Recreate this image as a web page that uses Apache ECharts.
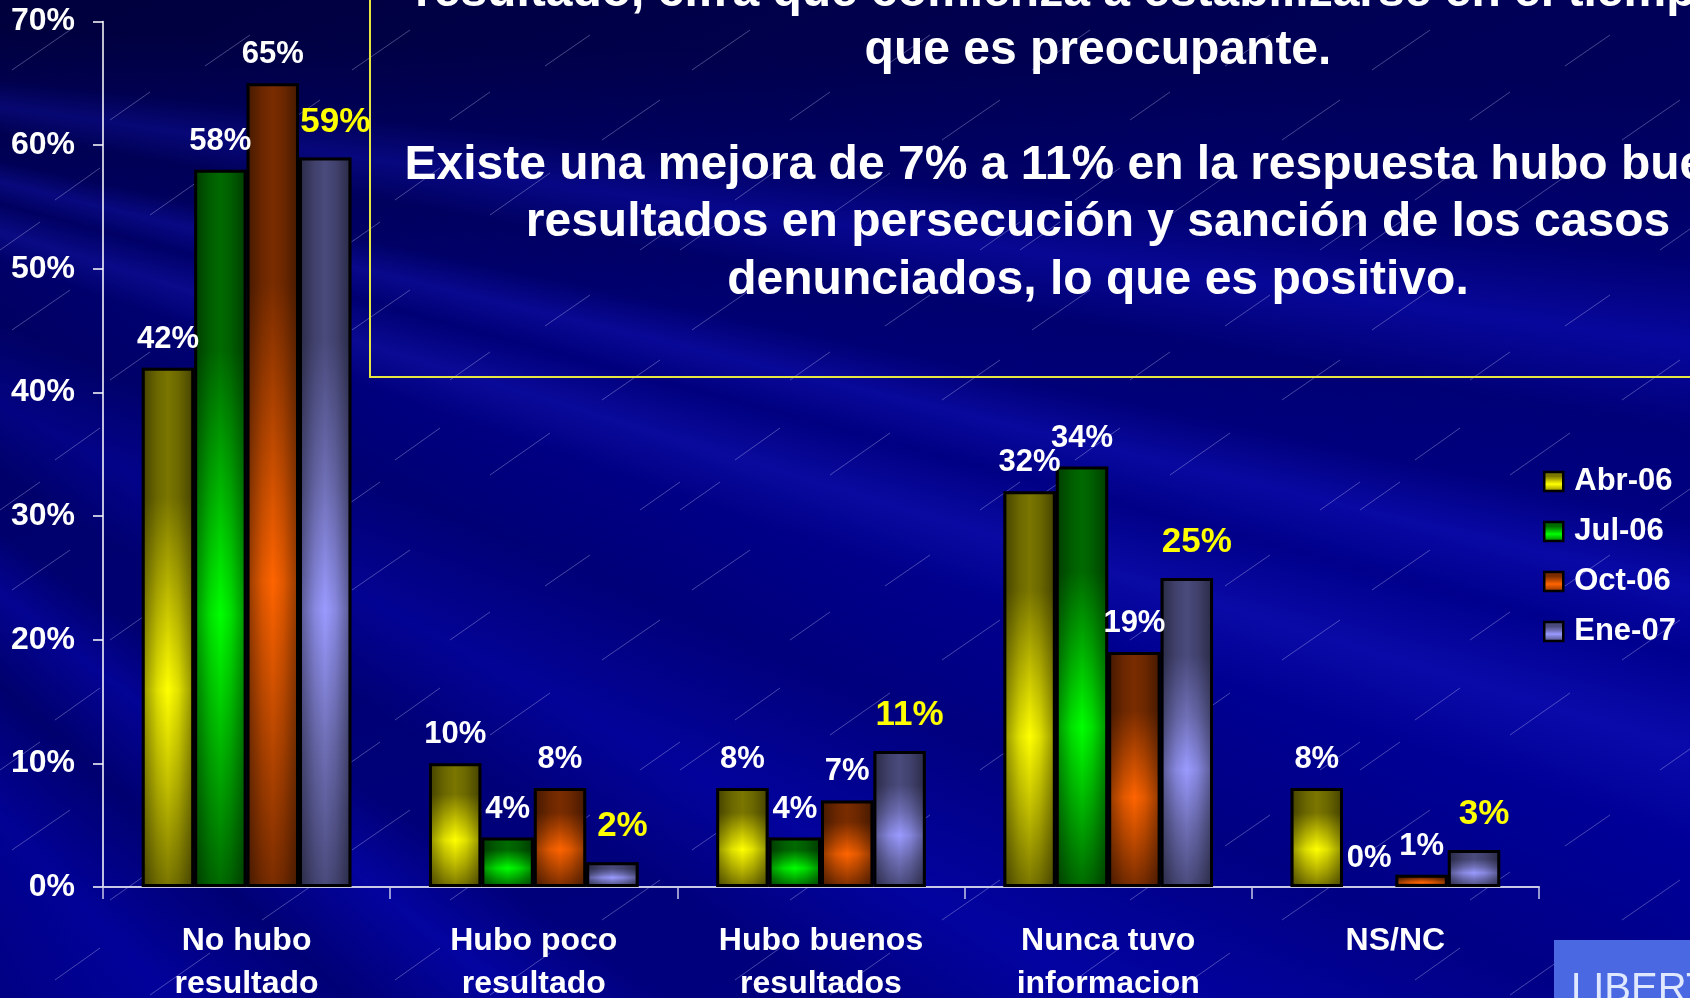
<!DOCTYPE html>
<html>
<head>
<meta charset="utf-8">
<script src="https://cdn.jsdelivr.net/npm/echarts@6/dist/echarts.min.js"></script>
<style>
  html, body { margin: 0; padding: 0; background: #00008a; }
  #bg {
    position: absolute; left: 0; top: 0; width: 1690px; height: 998px; overflow: hidden;
    background-color: #00008c;
  }
  #chart { position: absolute; left: 0; top: 0; width: 1690px; height: 998px; }
</style>
</head>
<body>
<div id="bg"></div>
<div id="chart"></div>
<script>
// data
var categories = ['No hubo\nresultado', 'Hubo poco\nresultado', 'Hubo buenos\nresultados', 'Nunca tuvo\ninformacion', 'NS/NC'];
var seriesNames = ['Abr-06', 'Jul-06', 'Oct-06', 'Ene-07'];
var abr06 = [42, 10, 8, 32, 8];
var jul06 = [58, 4, 4, 34, 0];
var oct06 = [65, 8, 7, 19, 1];
var ene07 = [59, 2, 11, 25, 3];
var yMin = 0, yMax = 70, yStep = 10;

var noteFirstLine = 'resultado, cifra que comienza a estabilizarse en el tiempo, lo';
var noteLines = [
  'que es preocupante.',
  '',
  'Existe una mejora de 7% a 11% en la respuesta hubo buenos',
  'resultados en persecución y sanción de los casos',
  'denunciados, lo que es positivo.'
];

var FONT = '"Liberation Sans", Arial, sans-serif';

// background: base gradient, soft rays from upper left, faint diagonal streaks
function rainTile() {
  var segs = [
    [12, 70, 70, 30], [150, 215, 210, 173], [205, 66, 250, 35], [55, 200, 100, 168],
    [262, 140, 320, 100], [110, 120, 150, 92], [300, 250, 340, 222], [0, 250, 40, 222]
  ];
  var s = "<svg xmlns='http://www.w3.org/2000/svg' width='340' height='260'><g stroke='rgba(210,210,255,0.33)' stroke-width='1'>";
  segs.forEach(function (l) {
    s += "<line x1='" + l[0] + "' y1='" + l[1] + "' x2='" + l[2] + "' y2='" + l[3] + "'/>";
  });
  s += '</g></svg>';
  return 'url("data:image/svg+xml,' + encodeURIComponent(s) + '")';
}
var rays = 'conic-gradient(at -760px 0px, ' +
  'rgba(0,0,30,0.45) 0deg, rgba(0,0,30,0.45) 92deg, rgba(0,0,40,0.30) 96deg, ' +
  'rgba(40,40,200,0.18) 98deg, rgba(0,0,40,0.28) 100deg, rgba(0,0,40,0.22) 102deg, ' +
  'rgba(40,40,210,0.22) 103.5deg, rgba(0,0,50,0.12) 105deg, rgba(40,40,210,0.25) 107deg, ' +
  'rgba(0,0,50,0.08) 109deg, rgba(0,0,60,0.28) 113deg, rgba(20,20,180,0.15) 118deg, ' +
  'rgba(0,0,60,0.32) 122deg, rgba(0,0,60,0.32) 125deg, rgba(20,20,190,0.18) 128deg, ' +
  'rgba(0,0,60,0.38) 132deg, rgba(10,10,170,0.15) 137deg, rgba(0,0,60,0.30) 145deg, rgba(0,0,60,0.3) 360deg)';
var base = 'linear-gradient(160deg, #000055 0%, #000086 35%, #000098 65%, #0000a4 100%)';
document.getElementById('bg').style.backgroundImage = rainTile() + ', ' + rays + ', ' + base;

function vGrad(dark, mid, bright) {
  return new echarts.graphic.LinearGradient(0, 0, 0, 1, [
    { offset: 0, color: dark },
    { offset: 0.25, color: dark },
    { offset: 0.45, color: mid },
    { offset: 0.62, color: bright },
    { offset: 0.8, color: mid },
    { offset: 1, color: dark }
  ]);
}
var fills = [
  vGrad('#7a7600', '#c4c000', '#ffff00'),
  vGrad('#006a00', '#00b800', '#00ff00'),
  vGrad('#7a2c00', '#c04a00', '#ff6400'),
  vGrad('#4a4a7c', '#7070b8', '#9a9aff')
];
var edgeShade = new echarts.graphic.LinearGradient(0, 0, 1, 0, [
  { offset: 0, color: 'rgba(0,0,0,0.45)' },
  { offset: 0.3, color: 'rgba(0,0,0,0.12)' },
  { offset: 0.5, color: 'rgba(0,0,0,0)' },
  { offset: 0.7, color: 'rgba(0,0,0,0.12)' },
  { offset: 1, color: 'rgba(0,0,0,0.45)' }
]);

// a zero bar shows no outline on the slide
function toItems(vals) {
  return vals.map(function (v) {
    return v === 0 ? { value: v, itemStyle: { borderWidth: 0 } } : v;
  });
}

var values = [abr06, jul06, oct06, ene07];
var series = [];
values.forEach(function (vals, i) {
  series.push({
    name: seriesNames[i],
    type: 'bar',
    xAxisIndex: 0,
    data: toItems(vals),
    barGap: '0%',
    barCategoryGap: '27%',
    z: 2,
    itemStyle: { color: fills[i], borderColor: '#000', borderWidth: 3 }
  });
});
values.forEach(function (vals, i) {
  var last = i === values.length - 1;
  series.push({
    name: seriesNames[i],
    type: 'bar',
    xAxisIndex: 1,
    data: vals,
    barGap: '0%',
    barCategoryGap: '27%',
    z: 3,
    silent: true,
    itemStyle: { color: edgeShade, borderWidth: 0 },
    label: {
      show: true,
      position: 'top',
      distance: 13,
      formatter: '{c}%',
      color: last ? '#ffff00' : '#ffffff',
      fontSize: last ? 35 : 31,
      fontWeight: 'bold',
      fontFamily: FONT,
      offset: last ? [10, -5] : [0, 0]
    }
  });
});

var graphics = [
  { type: 'rect', silent: true, shape: { x: 370, y: -10, width: 1400, height: 387 },
    style: { fill: 'none', stroke: '#e6e640', lineWidth: 2 } },
  { type: 'text', silent: true, x: 415, y: -7,
    style: { text: noteFirstLine, fill: '#fff', fontSize: 48, fontWeight: 'bold', fontFamily: FONT,
             align: 'left', verticalAlign: 'middle' } },
  { type: 'rect', silent: true, shape: { x: 1554, y: 940, width: 150, height: 70 },
    style: { fill: '#4a68e2' } },
  { type: 'text', silent: true, x: 1571, y: 970,
    style: { text: 'LIBERTAD', fill: '#dfe8ff', fontSize: 40, fontFamily: FONT, align: 'left', verticalAlign: 'top' } }
];
noteLines.forEach(function (t, k) {
  if (!t) return;
  graphics.push({
    type: 'text', silent: true, x: 1098, y: 50.7 + 57.5 * k,
    style: { text: t, fill: '#fff', fontSize: 48, fontWeight: 'bold', fontFamily: FONT,
             align: 'center', verticalAlign: 'middle' }
  });
});

var chart = echarts.init(document.getElementById('chart'), null, { renderer: 'canvas' });
chart.setOption({
  animation: false,
  backgroundColor: 'transparent',
  grid: { left: 103, right: 151, top: 21.5, bottom: 111, containLabel: false, outerBoundsMode: 'none' },
  legend: {
    data: seriesNames,
    orient: 'vertical',
    left: 1543,
    top: 466,
    padding: 0,
    itemWidth: 19,
    itemHeight: 19,
    itemGap: 19,
    icon: 'rect',
    itemStyle: { borderColor: '#000', borderWidth: 2.5 },
    textStyle: { color: '#fff', fontSize: 31, fontWeight: 'bold', fontFamily: FONT, padding: [0, 0, 0, 6] }
  },
  xAxis: [
    {
      type: 'category',
      data: categories,
      axisLine: { lineStyle: { color: '#c8c8e6', width: 2 } },
      axisTick: { show: true, length: 12, lineStyle: { color: '#c8c8e6', width: 1.5 } },
      axisLabel: { interval: 0, margin: 33, color: '#fff', fontSize: 32, fontWeight: 'bold',
                   fontFamily: FONT, lineHeight: 43 },
      splitLine: { show: false }
    },
    { type: 'category', data: categories, show: false }
  ],
  yAxis: {
    type: 'value',
    min: yMin,
    max: yMax,
    interval: yStep,
    axisLine: { show: true, lineStyle: { color: '#ffffff', width: 1.5 } },
    axisTick: { show: true, length: 10, lineStyle: { color: '#ffffff', width: 1.5 } },
    axisLabel: { formatter: '{value}%', margin: 28, color: '#fff', fontSize: 32, fontWeight: 'bold', fontFamily: FONT },
    splitLine: { show: false }
  },
  graphic: graphics,
  series: series
});
</script>
</body>
</html>
